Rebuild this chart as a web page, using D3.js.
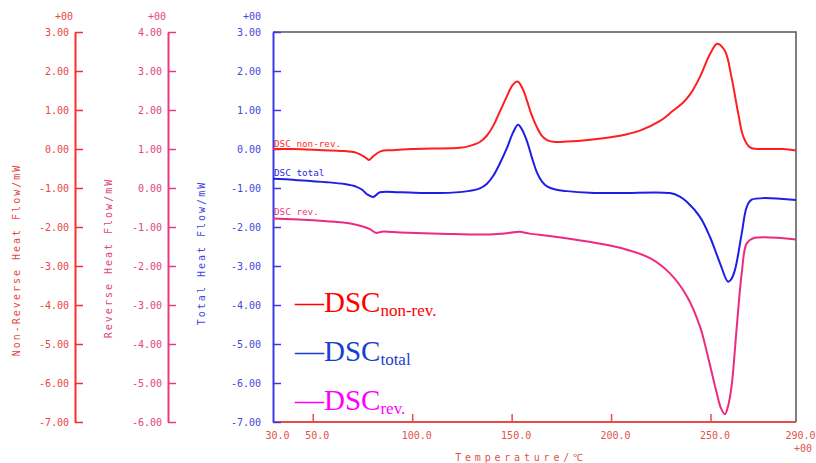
<!DOCTYPE html>
<meta charset="utf-8">
<style>
  body { margin: 0; background: #fff; }
  .curve { fill: none; stroke-width: 2px; }
  .mono { font-family: "DejaVu Sans Mono", monospace; }
</style>
<svg width="816" height="463"></svg>
<script src="https://d3js.org/d3.v7.min.js"></script>
<script>

    // data: [temperature, heat flow]
    var nonRevData = [[30,0.00],[40,0.00],[55,-0.03],[65,-0.05],[72,-0.10],[76,-0.20],[78.3,-0.28],[80.5,-0.18],[84,-0.06],
        [90,-0.03],[100,0.00],[110,0.01],[124,0.03],[129,0.08],[134,0.18],[137.5,0.34],[140.6,0.58],[144,0.95],[147.6,1.35],
        [150.5,1.64],[153,1.73],[155.5,1.55],[157.7,1.24],[160,0.88],[162.7,0.56],[165,0.35],[167.8,0.23],[172,0.18],
        [177.8,0.19],[189.4,0.24],[204.5,0.34],[214.5,0.47],[224.6,0.72],[231.1,0.98],[236,1.18],[240,1.42],[244.7,1.85],
        [249.7,2.43],[253.4,2.70],[257.3,2.51],[260.6,1.83],[264,0.90],[266.5,0.32],[269.9,0.04],[275,0.00],
        [286.4,0.00],[293,-0.04]];

    var totalData = [[30,-0.76],[40,-0.79],[57,-0.85],[66,-0.90],[72,-0.97],[75,-1.05],[77.3,-1.16],[80.3,-1.23],
        [83.8,-1.11],[94,-1.11],[114,-1.13],[128,-1.08],[134,-1.01],[137.6,-0.89],[140.6,-0.70],[144,-0.38],
        [147.6,0.02],[150.7,0.42],[153.2,0.62],[155.2,0.50],[157.7,0.20],[160.2,-0.22],[162.7,-0.60],[165.2,-0.83],
        [167.8,-0.96],[172,-1.04],[177.8,-1.08],[189.4,-1.12],[204.5,-1.13],[229.6,-1.13],[234.6,-1.22],[238.2,-1.36],
        [244.7,-1.74],[249.7,-2.25],[254.8,-2.93],[258.8,-3.40],[260.3,-3.35],[262.3,-3.10],[265.7,-2.17],
        [268.2,-1.49],[270.7,-1.30],[293,-1.31]];

    var revData = [[30,-0.78],[40,-0.80],[57,-0.85],[69,-0.91],[76,-1.00],[79,-1.06],[81.8,-1.15],[84.8,-1.12],
        [94,-1.14],[114,-1.17],[139,-1.19],[149,-1.15],[154,-1.12],[159,-1.17],[169,-1.23],[189,-1.38],[204.5,-1.53],
        [219.6,-1.80],[229.6,-2.19],[238.2,-2.78],[244.7,-3.55],[248.7,-4.32],[253.1,-5.25],[255.3,-5.65],
        [257.3,-5.80],[258.8,-5.60],[260.6,-5.08],[263.1,-3.63],[265.7,-2.19],[268.2,-1.42],[271.5,-1.29],[293,-1.32]];

    var nonRevTicks = [3,2,1,0,-1,-2,-3,-4,-5,-6,-7];
    var revTicks = [4,3,2,1,0,-1,-2,-3,-4,-5,-6];
    var totalTicks = [3,2,1,0,-1,-2,-3,-4,-5,-6,-7];
    var xTicks = [30,50,100,150,200,250,290];

    var svg = d3.select("svg");

    svg.append("rect").attr("width", 816).attr("height", 463).attr("fill", "#fff");

    var x = d3.scaleLinear().domain([30, 293]).range([273, 796]);
    var yNon = d3.scaleLinear().domain([3, -7]).range([32, 422]);
    var yRev = d3.scaleLinear().domain([4, -6]).range([32, 422]);
    var yTot = d3.scaleLinear().domain([3, -7]).range([32, 422]);

    function fmt(d) { return d.toFixed(2); }

    // vertical axes: ticks point right, labels on the left
    function drawYAxis(scale, ticks, xpos, pad, lineColor, textColor) {
        var g = svg.append("g")
            .attr("transform", "translate(" + xpos + ",0)")
            .call(d3.axisLeft(scale).tickValues(ticks).tickFormat(fmt)
                .tickSizeInner(-8).tickSizeOuter(0).tickPadding(pad));
        g.select(".domain").attr("stroke", lineColor).attr("stroke-width", 2);
        g.selectAll(".tick line").attr("stroke", lineColor).attr("stroke-width", 1.5);
        g.selectAll(".tick text")
            .attr("class", "mono")
            .attr("font-size", 10)
            .attr("fill", textColor);
        return g;
    }

    drawYAxis(yNon, nonRevTicks, 75, 6, "#ff2a2a", "#e8473f");
    drawYAxis(yRev, revTicks, 168, 6, "#ea3a7c", "#e2447e");

    // plot frame (top and right)
    svg.append("path")
        .attr("d", "M273,32H796V422")
        .attr("fill", "none")
        .attr("stroke", "#555")
        .attr("stroke-width", 1.5);

    // x axis
    var gx = svg.append("g")
        .attr("transform", "translate(0,422)")
        .call(d3.axisBottom(x).tickValues(xTicks).tickFormat(function(d) { return d.toFixed(1); })
            .tickSizeInner(-8).tickSizeOuter(0).tickPadding(10));
    gx.select(".domain").attr("d", "M273,0H796").attr("stroke", "#e84a4a").attr("stroke-width", 2);
    gx.selectAll(".tick line")
        .attr("stroke", "#e84a4a").attr("stroke-width", 1.5)
        .attr("display", function(d) { return (d == 30 || d == 290) ? "none" : null; });
    gx.selectAll(".tick text")
        .attr("class", "mono")
        .attr("font-size", 10)
        .attr("fill", "#e0524a")
        .attr("dx", function(d) { return d == 290 ? 10 : 4; });

    drawYAxis(yTot, totalTicks, 273, 12, "#3a3ae8", "#4646de");

    // exponent labels
    var expLabels = [
        {x: 73, y: 20, color: "#e8473f"},
        {x: 166, y: 20, color: "#e2447e"},
        {x: 261, y: 20, color: "#4646de"},
        {x: 812, y: 452, color: "#e0524a"}
    ];
    svg.selectAll(".exp")
        .data(expLabels)
        .enter().append("text")
        .attr("class", "mono")
        .attr("x", function(d) { return d.x; })
        .attr("y", function(d) { return d.y; })
        .attr("text-anchor", "end")
        .attr("font-size", 10)
        .attr("fill", function(d) { return d.color; })
        .text("+00");

    // axis titles
    var titles = [
        {text: "Non-Reverse Heat Flow/mW", x: 20, y: 260, color: "#e8473f"},
        {text: "Reverse Heat Flow/mW", x: 112, y: 258, color: "#e2447e"},
        {text: "Total Heat Flow/mW", x: 205, y: 253, color: "#4646de"}
    ];
    svg.selectAll(".ytitle")
        .data(titles)
        .enter().append("text")
        .attr("class", "mono")
        .attr("transform", function(d) { return "translate(" + d.x + "," + d.y + ") rotate(-90)"; })
        .attr("text-anchor", "middle")
        .attr("font-size", 10)
        .attr("letter-spacing", 2)
        .attr("fill", function(d) { return d.color; })
        .text(function(d) { return d.text; });

    svg.append("text")
        .attr("class", "mono")
        .attr("x", 521)
        .attr("y", 461)
        .attr("text-anchor", "middle")
        .attr("font-size", 10)
        .attr("letter-spacing", 3.8)
        .attr("fill", "#e0524a")
        .text("Temperature/℃");

    // curves
    var smooth = d3.curveCatmullRom.alpha(0.5);
    var lineNon = d3.line().x(function(d) { return x(d[0]); }).y(function(d) { return yNon(d[1]); }).curve(smooth);
    var lineTot = d3.line().x(function(d) { return x(d[0]); }).y(function(d) { return yTot(d[1]); }).curve(smooth);
    var lineRev = d3.line().x(function(d) { return x(d[0]); }).y(function(d) { return yRev(d[1]); }).curve(smooth);

    svg.append("path").attr("class", "curve").attr("stroke", "#ff1e1e").attr("d", lineNon(nonRevData));
    svg.append("path").attr("class", "curve").attr("stroke", "#1e1ee6").attr("d", lineTot(totalData));
    svg.append("path").attr("class", "curve").attr("stroke", "#ee2a7e").attr("d", lineRev(revData));

    // in-plot curve names
    var curveNames = [
        {text: "DSC non-rev.", y: 147, color: "#ff2a2a"},
        {text: "DSC total", y: 176, color: "#2a2ae0"},
        {text: "DSC rev.", y: 215, color: "#ea3a7c"}
    ];
    svg.selectAll(".cname")
        .data(curveNames)
        .enter().append("text")
        .attr("class", "mono")
        .attr("x", 274)
        .attr("y", function(d) { return d.y; })
        .attr("font-size", 9.3)
        .attr("fill", function(d) { return d.color; })
        .text(function(d) { return d.text; });

    // legend
    var legend = [
        {sub: "non-rev.", y: 312, color: "#ff0000"},
        {sub: "total", y: 361, color: "#1a3ed0"},
        {sub: "rev.", y: 410, color: "#ff00ff"}
    ];
    var lt = svg.selectAll(".legend")
        .data(legend)
        .enter().append("text")
        .attr("x", 295)
        .attr("y", function(d) { return d.y; })
        .attr("font-family", "'Liberation Serif', 'Times New Roman', serif")
        .attr("font-size", 29)
        .attr("fill", function(d) { return d.color; });
    lt.append("tspan").text("—DSC");
    lt.append("tspan")
        .attr("font-size", 17)
        .attr("dy", 4)
        .text(function(d) { return d.sub; });

</script>
